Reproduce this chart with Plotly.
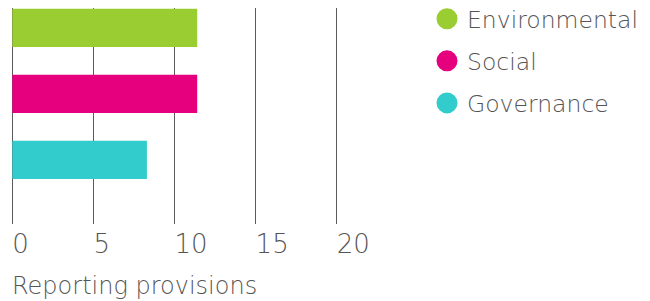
import plotly.graph_objects as go

categories = ["Environmental", "Social", "Governance"]
values = [11.4, 11.4, 8.3]
colors = ["#9acd32", "#e6007e", "#33cccc"]
x_ticks = [0, 5, 10, 15, 20]
x_title = "Reporting provisions"

FONT = "DejaVu Sans ExtraLight, DejaVu Sans Light, DejaVu Sans"
WT = 200
TXT = "#555555"

fig = go.Figure()
fig.add_trace(go.Bar(
    x=values, y=categories, orientation="h",
    marker=dict(color=colors, line=dict(width=0)),
    width=0.58, showlegend=False, hoverinfo="skip",
))
for c, col in zip(categories, colors):
    fig.add_trace(go.Scatter(
        x=[None], y=[None], mode="markers", name=c, legendgroup=c,
        marker=dict(symbol="circle", size=16, color=col, line=dict(color=col, width=5)),
    ))

W, H = 650, 301
ml, mr, mt, mb = 0, 0, 8, 77
pw = W - ml - mr
ph = H - mt - mb

def px_x(p):
    return (p - ml) / pw

def px_y(p):
    return (H - mb - p) / ph

# x: value 0 at px 12.3, value 20 at px 336.7
PPU = (336.7 - 12.3) / 20
lo, hi = -0.25, 20.25

fig.update_layout(
    width=W, height=H,
    margin=dict(l=ml, r=mr, t=mt, b=mb, autoexpand=False),
    paper_bgcolor="white", plot_bgcolor="white",
    font=dict(family=FONT, size=24, color=TXT, weight=WT),
    xaxis=dict(
        domain=[px_x(12.3 + lo * PPU), px_x(12.3 + hi * PPU)], range=[lo, hi],
        tickvals=x_ticks, ticktext=[str(v) for v in x_ticks],
        showgrid=True, gridcolor="#5a5a5a", gridwidth=1,
        zeroline=False, showline=False, ticks="",
        ticklabelposition="outside right", ticklabelstandoff=2,
        tickfont=dict(size=26, color=TXT, family=FONT, weight=WT),
        fixedrange=True, automargin=False,
    ),
    yaxis=dict(
        type="category", range=[2.97, -0.30],
        showgrid=False, zeroline=False, showline=False,
        showticklabels=False, ticks="", fixedrange=True, automargin=False,
    ),
    legend=dict(
        x=px_x(427), xanchor="left", y=px_y(-3), yanchor="top",
        font=dict(size=23.5, color=TXT, family=FONT, weight=WT),
        bgcolor="rgba(0,0,0,0)", borderwidth=0, tracegroupgap=8.5,
    ),
    annotations=[dict(
        text=x_title, xref="paper", yref="paper", x=px_x(10), y=px_y(270),
        xanchor="left", yanchor="top", showarrow=False,
        font=dict(size=24, color=TXT, family=FONT, weight=WT),
    )],
)

fig.write_html(
    "out.html",
    config={"displayModeBar": False, "staticPlot": True},
    post_script="document.body.style.margin='0px';",
)
